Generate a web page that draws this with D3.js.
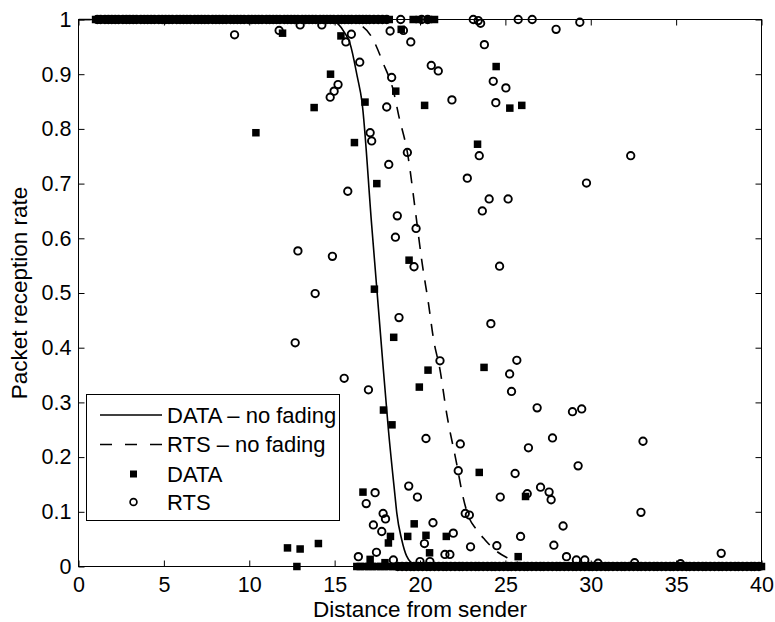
<!DOCTYPE html>
<html>
<head>
<meta charset="utf-8">
<script src="https://cdn.jsdelivr.net/npm/d3@7"></script>
<style>
  body { margin: 0; background: #fff; }
  text { font-family: "Liberation Sans", Arial, Helvetica, sans-serif; }
</style>
</head>
<body>
<svg id="chart" width="775" height="622"></svg>
<script>
// axis ticks
const xTicks = [0, 5, 10, 15, 20, 25, 30, 35, 40];
const yTicks = [0, 0.1, 0.2, 0.3, 0.4, 0.5, 0.6, 0.7, 0.8, 0.9, 1];
const yTickLabels = ["0", "0.1", "0.2", "0.3", "0.4", "0.5", "0.6", "0.7", "0.8", "0.9", "1"];

// analytic curves (no fading)
const dataCurveX = [0, 14, 14.8, 15.2, 15.6, 15.9, 16.33, 16.6, 17.17, 17.45, 17.76, 18.15, 18.54, 18.64, 18.93, 19.22, 19.7, 20.2, 40];
const dataCurveY = [1, 1, 0.998, 0.992, 0.975, 0.956, 0.895, 0.85, 0.624, 0.516, 0.396, 0.25, 0.128, 0.098, 0.049, 0.019, 0.003, 0, 0];
const rtsCurveX = [0, 15.5, 16.5, 17.17, 17.86, 18.44, 18.77, 19.26, 19.77, 20.1, 20.5, 20.8, 21.17, 21.56, 22.14, 22.5, 22.8, 23.3, 23.8, 24.4, 25.1, 26, 27, 28, 40];
const rtsCurveY = [1, 1, 0.99, 0.968, 0.919, 0.87, 0.822, 0.757, 0.64, 0.56, 0.48, 0.414, 0.36, 0.28, 0.189, 0.13, 0.095, 0.068, 0.049, 0.03, 0.016, 0.005, 0.001, 0, 0];

// measured DATA points (with fading)
const dataPoints = [
  [10.39, 0.793], [11.95, 0.975], [12.24, 0.034], [12.79, 0.0], [12.98, 0.032], [13.8, 0.839],
  [14.05, 0.042], [14.76, 0.90], [15.37, 0.970], [16.16, 0.775], [16.66, 0.136], [16.78, 0.849],
  [17.08, 0.013], [17.33, 0.507], [17.47, 0.700], [17.86, 0.286], [17.95, 0.007], [18.15, 0.043],
  [18.27, 0.055], [18.36, 0.259], [18.46, 0.419], [18.58, 0.869], [18.9, 0.982], [19.28, 0.055],
  [19.36, 0.560], [19.66, 0.078], [19.96, 0.328], [20.27, 0.843], [20.35, 0.057], [20.47, 0.359],
  [20.56, 0.025], [21.54, 0.055], [23.37, 0.772], [23.47, 0.172], [23.75, 0.364], [24.46, 0.914],
  [25.26, 0.838], [25.75, 0.018], [25.96, 0.843], [26.18, 0.128]
];
const dataAtOne = [1.0, 1.2, 1.4, 1.65, 1.85, 2.05, 2.25, 2.45, 2.7, 2.9, 3.1, 3.3, 3.5, 3.75, 3.95,
  4.15, 4.35, 4.55, 4.8, 5.0, 5.2, 5.4, 5.6, 5.85, 6.05, 6.25, 6.45, 6.65, 6.9, 7.1, 7.3, 7.5, 7.7,
  7.95, 8.15, 8.35, 8.55, 8.75, 9.0, 9.2, 9.4, 9.6, 9.8, 10.05, 10.25, 10.45, 10.65, 10.85, 11.1, 11.3,
  11.5, 11.7, 11.9, 12.15, 12.35, 12.55, 12.75, 12.95, 13.2, 13.4, 13.6, 13.8, 14.0, 14.25, 14.45,
  14.65, 14.85, 15.05, 15.3, 15.5, 15.7, 15.9, 16.1, 16.35, 16.55, 16.75, 16.95, 17.15, 17.4, 17.65,
  17.9, 18.2, 19.6, 19.95, 20.5, 20.85];
const dataAtZero = [16.3, 16.5, 16.75, 17.0, 17.2, 17.45, 17.7, 17.9, 18.15, 18.4, 18.6, 18.85, 19.1,
  19.3, 19.55, 19.8, 20.0, 20.25, 20.5, 20.7, 20.95, 21.2, 21.4, 21.65, 21.9, 22.1, 22.35, 22.6, 22.8,
  23.05, 23.3, 23.5, 23.75, 24.0, 24.2, 24.45, 24.7, 24.9, 25.15, 25.4, 25.6, 25.85, 26.1, 26.3, 26.55,
  26.8, 27.0, 27.25, 27.5, 27.7, 27.95, 28.2, 28.4, 28.65, 28.9, 29.1, 29.35, 29.6, 29.8, 30.05, 30.3,
  30.5, 30.75, 31.0, 31.2, 31.45, 31.7, 31.9, 32.15, 32.4, 32.6, 32.85, 33.1, 33.3, 33.55, 33.8, 34.0,
  34.25, 34.5, 34.7, 34.95, 35.2, 35.4, 35.65, 35.9, 36.1, 36.35, 36.6, 36.8, 37.05, 37.3, 37.5, 37.75,
  38.0, 38.2, 38.45, 38.7, 38.9, 39.15, 39.4, 39.6, 39.85, 40.0];

// measured RTS points (with fading)
const rtsPoints = [
  [9.14, 0.972], [11.75, 0.98], [12.69, 0.409], [12.85, 0.577], [12.98, 0.99], [13.86, 0.499],
  [14.25, 0.99], [14.74, 0.858], [14.87, 0.567], [14.97, 0.869], [15.2, 0.881], [15.56, 0.344],
  [15.66, 0.959], [15.77, 0.686], [15.98, 0.973], [16.39, 0.018], [16.47, 0.922], [16.85, 0.115],
  [16.98, 0.323], [17.08, 0.793], [17.17, 0.778], [17.27, 0.076], [17.37, 0.135], [17.45, 0.026],
  [17.76, 0.064], [17.84, 0.097], [17.98, 0.087], [18.05, 0.84], [18.17, 0.735], [18.25, 0.979],
  [18.34, 0.894], [18.44, 0.012], [18.56, 0.602], [18.67, 0.641], [18.77, 0.455], [18.87, 1.0],
  [19.03, 0.98], [19.26, 0.757], [19.34, 0.147], [19.46, 0.959], [19.65, 0.548], [19.77, 0.618],
  [19.85, 0.127], [20.0, 0.009], [20.1, 1.0], [20.26, 0.042], [20.35, 0.234], [20.45, 1.0],
  [20.58, 0.009], [20.66, 0.916], [20.76, 0.08], [21.07, 0.906], [21.17, 0.376], [21.46, 0.022],
  [21.75, 0.022], [21.87, 0.853], [21.95, 0.061], [22.24, 0.175], [22.36, 0.224], [22.65, 0.097],
  [22.77, 0.710], [22.89, 0.094], [22.96, 0.036], [23.12, 1.0], [23.41, 0.998], [23.47, 0.751],
  [23.55, 0.993], [23.65, 0.650], [23.77, 0.954], [24.05, 0.672], [24.15, 0.444], [24.29, 0.887],
  [24.44, 0.848], [24.5, 0.038], [24.7, 0.127], [24.66, 0.549], [25.03, 0.875], [25.16, 0.672],
  [25.25, 0.352], [25.36, 0.320], [25.57, 0.170], [25.67, 0.377], [25.75, 1.0], [25.89, 0.055],
  [26.28, 0.133], [26.35, 0.217], [26.57, 1.0], [26.86, 0.290], [27.06, 0.145], [27.56, 0.136],
  [27.68, 0.122], [27.76, 0.235], [27.84, 0.039], [27.97, 0.982], [28.38, 0.074], [28.58, 0.018],
  [28.93, 0.283], [29.16, 0.012], [29.26, 0.184], [29.36, 0.995], [29.47, 0.288], [29.65, 0.012],
  [29.75, 0.701], [30.43, 0.006], [32.34, 0.751], [32.57, 0.007], [32.94, 0.099], [33.06, 0.229],
  [35.26, 0.005], [37.64, 0.024]
];
const rtsAtOne = [1.1, 1.3, 1.55, 1.75, 1.95, 2.15, 2.35, 2.6, 2.8, 3.0, 3.2, 3.4, 3.65, 3.85, 4.05,
  4.25, 4.45, 4.7, 4.9, 5.1, 5.3, 5.5, 5.75, 5.95, 6.15, 6.35, 6.55, 6.8, 7.0, 7.2, 7.4, 7.6, 7.85,
  8.05, 8.25, 8.45, 8.65, 8.9, 9.1, 9.3, 9.5, 9.7, 9.95, 10.15, 10.35, 10.55, 10.75, 11.0, 11.2, 11.4,
  11.6, 11.8, 12.05, 12.25, 12.45, 12.65, 12.85, 13.1, 13.3, 13.5, 13.7, 13.9, 14.15, 14.35, 14.55,
  14.75, 14.95, 15.2, 15.4, 15.6, 15.8, 16.0, 16.25, 16.45, 16.65, 16.85, 17.05, 17.3, 17.55, 17.8,
  18.05];
const rtsAtZero = [18.7, 18.95, 19.2, 19.45, 19.65, 19.9, 20.15, 20.4, 20.6, 20.85, 21.1, 21.35,
  21.55, 21.8, 22.05, 22.3, 22.5, 22.75, 23.0, 23.25, 23.45, 23.7, 23.95, 24.2, 24.4, 24.65, 24.9,
  25.15, 25.35, 25.6, 25.85, 26.1, 26.3, 26.55, 26.8, 27.05, 27.25, 27.5, 27.75, 28.0, 28.2, 28.45,
  28.7, 28.95, 29.15, 29.4, 29.65, 29.9, 30.1, 30.35, 30.6, 30.85, 31.05, 31.3, 31.55, 31.8, 32.0,
  32.25, 32.5, 32.75, 32.95, 33.2, 33.45, 33.7, 33.9, 34.15, 34.4, 34.65, 34.85, 35.1, 35.35, 35.6,
  35.8, 36.05, 36.3, 36.55, 36.75, 37.0, 37.25, 37.5, 37.7, 37.95, 38.2, 38.45, 38.65, 38.9, 39.15,
  39.4, 39.6, 39.85];

const legendNames = ["DATA \u2013 no fading", "RTS \u2013 no fading", "DATA", "RTS"];

// layout
const plotLeft = 78.5, plotRight = 761.5, plotTop = 19.5, plotBottom = 566.5;
const svg = d3.select("#chart");

const x = d3.scaleLinear().domain([0, 40]).range([plotLeft, plotRight]);
const y = d3.scaleLinear().domain([0, 1]).range([plotBottom, plotTop]);

svg.append("rect").attr("width", 775).attr("height", 622).attr("fill", "#fff");

// axes (ticks inward on all four sides)
const tickLen = 6;
svg.append("g")
    .attr("transform", `translate(0,${plotBottom})`)
    .call(d3.axisBottom(x).tickValues(xTicks).tickSizeInner(-tickLen).tickSizeOuter(0).tickPadding(10))
    .call(g => g.select(".domain").remove());
svg.append("g")
    .attr("transform", `translate(0,${plotTop})`)
    .call(d3.axisTop(x).tickValues(xTicks).tickSizeInner(-tickLen).tickSizeOuter(0).tickFormat(""))
    .call(g => g.select(".domain").remove());
svg.append("g")
    .attr("transform", `translate(${plotLeft},0)`)
    .call(d3.axisLeft(y).tickValues(yTicks).tickSizeInner(-tickLen).tickSizeOuter(0).tickPadding(7)
        .tickFormat((d, i) => yTickLabels[i]))
    .call(g => g.select(".domain").remove());
svg.append("g")
    .attr("transform", `translate(${plotRight},0)`)
    .call(d3.axisRight(y).tickValues(yTicks).tickSizeInner(-tickLen).tickSizeOuter(0).tickFormat(""))
    .call(g => g.select(".domain").remove());

svg.selectAll(".tick line").attr("stroke", "#000");
svg.selectAll(".tick text").attr("font-size", 21.5).attr("fill", "#000")
    .attr("font-family", '"Liberation Sans", Arial, sans-serif');

// clip for curves
svg.append("clipPath").attr("id", "plotclip")
  .append("rect").attr("x", plotLeft).attr("y", plotTop - 1)
  .attr("width", plotRight - plotLeft).attr("height", plotBottom - plotTop + 2);

const plot = svg.append("g");

const line = d3.line().x(d => x(d[0])).y(d => y(d[1])).curve(d3.curveMonotoneX);

plot.append("path")
    .datum(dataCurveX.map((v, i) => [v, dataCurveY[i]]))
    .attr("d", line)
    .attr("fill", "none").attr("stroke", "#000").attr("stroke-width", 1.6)
    .attr("clip-path", "url(#plotclip)");

plot.append("path")
    .datum(rtsCurveX.map((v, i) => [v, rtsCurveY[i]]))
    .attr("d", line)
    .attr("fill", "none").attr("stroke", "#000").attr("stroke-width", 1.6)
    .attr("stroke-dasharray", "12,10")
    .attr("clip-path", "url(#plotclip)");

// DATA squares
const dataAll = dataPoints
    .concat(dataAtOne.map(v => [v, 1]))
    .concat(dataAtZero.map(v => [v, 0]));
const sq = 7.5;
plot.selectAll(".dsq")
    .data(dataAll)
    .enter().append("rect")
    .attr("class", "dsq")
    .attr("x", d => x(d[0]) - sq / 2)
    .attr("y", d => y(d[1]) - sq / 2)
    .attr("width", sq).attr("height", sq)
    .attr("fill", "#000");

// RTS circles
const rtsAll = rtsPoints
    .concat(rtsAtOne.map(v => [v, 1]))
    .concat(rtsAtZero.map(v => [v, 0]));
plot.selectAll(".rc")
    .data(rtsAll)
    .enter().append("circle")
    .attr("class", "rc")
    .attr("cx", d => x(d[0]))
    .attr("cy", d => y(d[1]))
    .attr("r", 3.7)
    .attr("fill", "none").attr("stroke", "#000").attr("stroke-width", 1.9);

// box
svg.append("rect")
    .attr("x", plotLeft).attr("y", plotTop)
    .attr("width", plotRight - plotLeft).attr("height", plotBottom - plotTop)
    .attr("fill", "none").attr("stroke", "#000").attr("stroke-width", 1);

// axis labels
svg.append("text")
    .attr("x", (plotLeft + plotRight) / 2).attr("y", 617)
    .attr("text-anchor", "middle").attr("font-size", 22.5)
    .text("Distance from sender");
svg.append("text")
    .attr("transform", `translate(27,${(plotTop + plotBottom) / 2}) rotate(-90)`)
    .attr("text-anchor", "middle").attr("font-size", 22.5)
    .text("Packet reception rate");

// legend
const lg = svg.append("g");
lg.append("rect")
    .attr("x", 86.5).attr("y", 394.5).attr("width", 253).attr("height", 126)
    .attr("fill", "#fff").attr("stroke", "#000").attr("stroke-width", 1);
const rowY = [415, 444.5, 474, 502];
lg.append("line").attr("x1", 100).attr("x2", 162).attr("y1", rowY[0]).attr("y2", rowY[0])
    .attr("stroke", "#000").attr("stroke-width", 1.6);
lg.append("line").attr("x1", 100).attr("x2", 162).attr("y1", rowY[1]).attr("y2", rowY[1])
    .attr("stroke", "#000").attr("stroke-width", 1.6).attr("stroke-dasharray", "12,13");
lg.append("rect").attr("x", 133.5 - 3.5).attr("y", rowY[2] - 3.5).attr("width", 7).attr("height", 7)
    .attr("fill", "#000");
lg.append("circle").attr("cx", 133.5).attr("cy", rowY[3]).attr("r", 3.4)
    .attr("fill", "none").attr("stroke", "#000").attr("stroke-width", 1.7);
lg.selectAll(".lt")
    .data(legendNames)
    .enter().append("text")
    .attr("class", "lt")
    .attr("x", 167).attr("y", (d, i) => rowY[i] + 7.5)
    .attr("font-size", 22)
    .text(d => d);
</script>
</body>
</html>
